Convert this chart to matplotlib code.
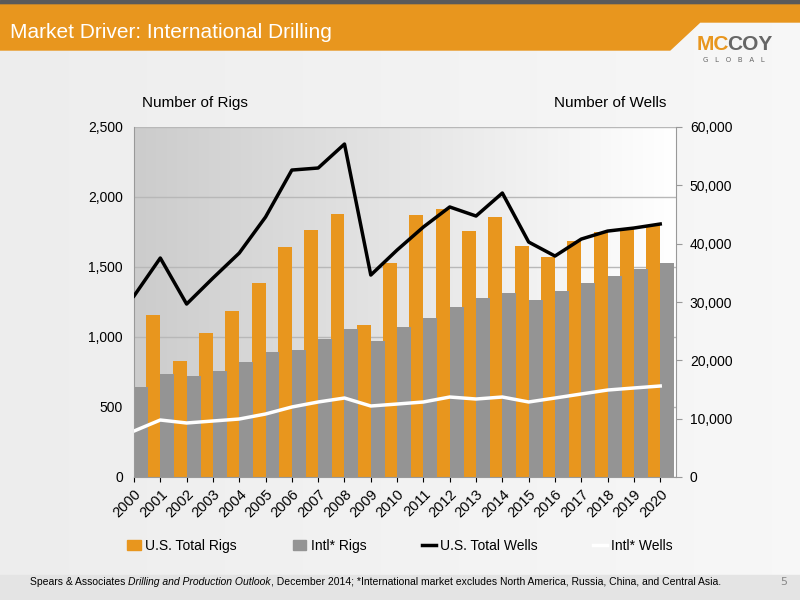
import matplotlib
matplotlib.use("Agg")
import matplotlib.pyplot as plt
import numpy as np
from matplotlib.patches import Polygon, Rectangle
from matplotlib.lines import Line2D

years = [str(y) for y in range(2000, 2021)]
us_rigs = [918, 1157, 829, 1029, 1186, 1386, 1643, 1764, 1879, 1086, 1529,
           1871, 1914, 1757, 1857, 1650, 1571, 1686, 1750, 1771, 1800]
intl_rigs = [643, 736, 721, 757, 821, 893, 907, 986, 1057, 971, 1071,
             1136, 1214, 1279, 1314, 1264, 1329, 1386, 1436, 1486, 1529]
us_wells = [31030, 37540, 29650, 34100, 38390, 44570, 52620, 52970, 57080, 34620, 38910,
            42860, 46290, 44740, 48680, 40280, 37880, 40790, 42160, 42680, 43370]
intl_wells = [7880, 9770, 9260, 9600, 9940, 10800, 12000, 12860, 13540, 12170, 12510,
              12860, 13710, 13370, 13710, 12860, 13540, 14230, 14910, 15260, 15600]

ORANGE = "#E8961E"
GREY = "#949494"
FONT = "Liberation Sans"

fig = plt.figure(figsize=(8, 6), dpi=100)
bg = fig.add_axes([0, 0, 1, 1], zorder=-10)
bg.set_xlim(0, 800); bg.set_ylim(600, 0); bg.axis("off")
grad = np.linspace(0.93, 0.97, 256)[None, :]
bg.imshow(np.dstack([grad]*3), extent=[0, 800, 600, 0], aspect="auto")
bg.add_patch(Rectangle((0, 0), 800, 5, color="#5a5a5a"))
bg.add_patch(Polygon([[0, 5], [800, 5], [800, 22], [700, 22], [670, 50], [0, 50]], color=ORANGE))
bg.add_patch(Rectangle((0, 575), 800, 25, color="#e4e4e4"))
bg.text(10, 32, "Market Driver: International Drilling", color="white", fontsize=15,
        va="center", family=FONT)
bg.text(697, 44, "MC", color=ORANGE, fontsize=15, fontweight="bold", va="center", family=FONT)
bg.text(727, 44, "COY", color="#666666", fontsize=15, fontweight="bold", va="center", family=FONT)
bg.text(734, 60, "G   L   O   B   A   L", color="#666666", fontsize=5, va="center", ha="center")

# footer
fig.canvas.draw()
r = fig.canvas.get_renderer()
xpos = 30
for txt, st in [("Spears & Associates ", "normal"), ("Drilling and Production Outlook", "italic"),
                (", December 2014; *International market excludes North America, Russia, China, and Central Asia.", "normal")]:
    t = bg.text(xpos, 582, txt, fontsize=7.5, va="center", style=st, family=FONT)
    bb = t.get_window_extent(renderer=r)
    xpos += bb.width
bg.text(780, 582, "5", fontsize=8, va="center", color="#888888")

ax = fig.add_axes([134/800, 1-477/600, (676-134)/800, 350/600])
x = np.arange(len(years))
w = 0.53
ax.imshow(np.linspace(0.8, 1.0, 256)[None, :].repeat(2, 0)[..., None].repeat(3, 2),
          extent=[0, 20.6, 0, 2500], aspect="auto", zorder=0)
ax.bar(x - w/2, us_rigs, w, color=ORANGE, zorder=2)
ax.bar(x + w/2, intl_rigs, w, color=GREY, zorder=2)
ax.set_xlim(0, 20.6)
ax.set_ylim(0, 2500)
ax.set_yticks(range(0, 2501, 500))
ax.set_yticklabels([f"{v:,}" for v in range(0, 2501, 500)], fontsize=10, family=FONT)
ax.yaxis.grid(True, color="#b8b8b8", lw=1, zorder=1)
ax.set_axisbelow(True)
ax.set_xticks(x)
ax.set_xticklabels(years, rotation=45, ha="right", rotation_mode="anchor", fontsize=10.5, family=FONT)
ax.tick_params(axis="y", length=0, pad=8)
for s in ["top", "right"]:
    ax.spines[s].set_visible(False)
ax.spines["left"].set_color("#999999"); ax.spines["bottom"].set_color("#999999")

ax2 = ax.twinx()
ax2.plot(x, us_wells, color="black", lw=2.5, zorder=5)
ax2.plot(x, intl_wells, color="white", lw=2.5, zorder=5)
ax2.set_ylim(0, 60000)
ax2.set_yticks(range(0, 60001, 10000))
ax2.set_yticklabels([f"{v:,}" for v in range(0, 60001, 10000)], fontsize=10, family=FONT)
ax2.tick_params(axis="y", length=4, color="#999999", pad=6)
for s in ["top", "left", "bottom"]:
    ax2.spines[s].set_visible(False)
ax2.spines["right"].set_color("#999999")

bg.text(195, 103, "Number of Rigs", fontsize=11, ha="center", va="center", family=FONT)
bg.text(610, 103, "Number of Wells", fontsize=11, ha="center", va="center", family=FONT)

handles = [Rectangle((0, 0), 1, 1, color=ORANGE), Rectangle((0, 0), 1, 1, color=GREY),
           Line2D([], [], color="black", lw=2.5), Line2D([], [], color="white", lw=2.5)]
labels = ["U.S. Total Rigs", "Intl* Rigs", "U.S. Total Wells", "Intl* Wells"]
fig.legend(handles, labels, loc="center", bbox_to_anchor=(0.5, 1-546/600), ncol=4,
           frameon=False, handlelength=1.0, handleheight=0.8, handletextpad=0.3, columnspacing=4,
           prop={"family": FONT, "size": 10})

fig.savefig("out.png", dpi=100)
